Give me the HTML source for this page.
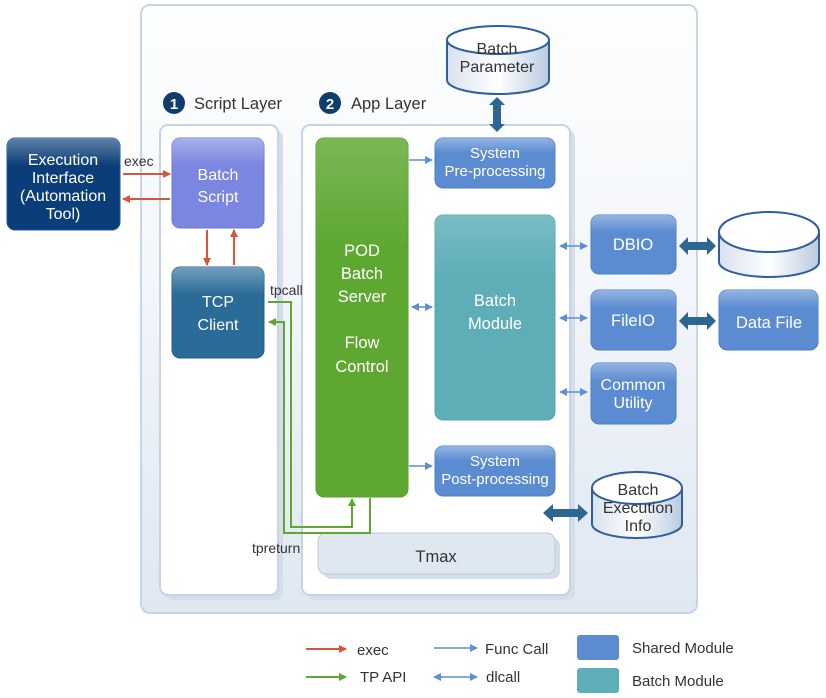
<!DOCTYPE html>
<html><head><meta charset="utf-8"><style>
html,body{margin:0;padding:0;background:#fff;width:826px;height:698px;overflow:hidden}
svg text{font-family:"Liberation Sans","DejaVu Sans",sans-serif}
</style></head><body>
<svg width="826" height="698" viewBox="0 0 826 698" xmlns="http://www.w3.org/2000/svg">
<defs>
<linearGradient id="bg" x1="0" y1="0" x2="0" y2="1"><stop offset="0" stop-color="#fdfefe"/><stop offset="0.45" stop-color="#f3f6fa"/><stop offset="1" stop-color="#dfe7f1"/></linearGradient>
<linearGradient id="cyl" x1="0" y1="0" x2="1" y2="0"><stop offset="0" stop-color="#d8e2ee"/><stop offset="0.5" stop-color="#ffffff"/><stop offset="1" stop-color="#b9cbe0"/></linearGradient>
<linearGradient id="gloss" x1="0" y1="0" x2="0" y2="1"><stop offset="0" stop-color="#fff" stop-opacity="0.35"/><stop offset="0.3" stop-color="#fff" stop-opacity="0"/></linearGradient>
<marker id="ar" markerWidth="8" markerHeight="8" refX="7" refY="4" orient="auto" markerUnits="userSpaceOnUse"><path d="M0,0 L8,4 L0,8 Z" fill="#d9553a"/></marker>
<marker id="ag" markerWidth="8" markerHeight="8" refX="7" refY="4" orient="auto" markerUnits="userSpaceOnUse"><path d="M0,0 L8,4 L0,8 Z" fill="#5ea832"/></marker>
<marker id="ab" markerWidth="8" markerHeight="8" refX="7" refY="4" orient="auto" markerUnits="userSpaceOnUse"><path d="M0,0 L8,4 L0,8 Z" fill="#5b8fd6"/></marker>
<marker id="abs" markerWidth="8" markerHeight="8" refX="1" refY="4" orient="auto" markerUnits="userSpaceOnUse"><path d="M8,0 L0,4 L8,8 Z" fill="#5b8fd6"/></marker>
</defs>

<rect x="141" y="5" width="556" height="608" rx="9" fill="url(#bg)" stroke="#c6d4e4" stroke-width="2"/>
<rect x="165" y="130" width="118" height="470" rx="8" fill="#d3deea"/>
<rect x="160" y="125" width="118" height="470" rx="8" fill="#fff" stroke="#c6d4e4" stroke-width="2"/>
<rect x="307" y="130" width="268" height="470" rx="8" fill="#d3deea"/>
<rect x="302" y="125" width="268" height="470" rx="8" fill="#fff" stroke="#c6d4e4" stroke-width="2"/>

<circle cx="174" cy="103" r="11" fill="#0f3d6e"/><text x="174" y="109" font-size="15" font-weight="bold" fill="#fff" text-anchor="middle">1</text>
<text x="194" y="109" font-size="16.5" fill="#333">Script Layer</text>
<circle cx="330" cy="103" r="11" fill="#0f3d6e"/><text x="330" y="109" font-size="15" font-weight="bold" fill="#fff" text-anchor="middle">2</text>
<text x="351" y="109" font-size="16.5" fill="#333">App Layer</text>

<rect x="7" y="138" width="113" height="92" rx="8" fill="#0b3e78" stroke="#1d5596"/>
<rect x="7" y="138" width="113" height="92" rx="8" fill="url(#gloss)"/>
<text font-size="16" fill="#fff" text-anchor="middle"><tspan x="63" y="165">Execution</tspan><tspan x="63" y="183">Interface</tspan><tspan x="63" y="201">(Automation</tspan><tspan x="63" y="219">Tool)</tspan></text>

<rect x="172" y="138" width="92" height="90" rx="8" fill="#7a86df" stroke="#6c7ad6"/>
<rect x="172" y="138" width="92" height="90" rx="8" fill="url(#gloss)"/>
<text font-size="16" fill="#fff" text-anchor="middle"><tspan x="218" y="180">Batch</tspan><tspan x="218" y="202">Script</tspan></text>
<rect x="172" y="267" width="92" height="91" rx="8" fill="#2b6b98" stroke="#255f89"/>
<rect x="172" y="267" width="92" height="91" rx="8" fill="url(#gloss)"/>
<text font-size="16" fill="#fff" text-anchor="middle"><tspan x="218" y="307">TCP</tspan><tspan x="218" y="330">Client</tspan></text>

<rect x="316" y="138" width="92" height="359" rx="8" fill="#5ea832" stroke="#55a02c"/>
<rect x="316" y="138" width="92" height="359" rx="8" fill="url(#gloss)" opacity="0.5"/>
<text font-size="16.5" fill="#fff" text-anchor="middle"><tspan x="362" y="256">POD</tspan><tspan x="362" y="279">Batch</tspan><tspan x="362" y="302">Server</tspan><tspan x="362" y="348">Flow</tspan><tspan x="362" y="372">Control</tspan></text>

<rect x="435" y="138" width="120" height="50" rx="8" fill="#5b8cd1" stroke="#4f7fc4"/>
<rect x="435" y="138" width="120" height="50" rx="8" fill="url(#gloss)"/>
<text font-size="15" fill="#fff" text-anchor="middle"><tspan x="495" y="158">System</tspan><tspan x="495" y="176">Pre-processing</tspan></text>
<rect x="435" y="446" width="120" height="50" rx="8" fill="#5b8cd1" stroke="#4f7fc4"/>
<rect x="435" y="446" width="120" height="50" rx="8" fill="url(#gloss)"/>
<text font-size="15" fill="#fff" text-anchor="middle"><tspan x="495" y="466">System</tspan><tspan x="495" y="484">Post-processing</tspan></text>

<rect x="435" y="215" width="120" height="205" rx="8" fill="#5eaeb8" stroke="#56a5af"/>
<rect x="435" y="215" width="120" height="205" rx="8" fill="url(#gloss)" opacity="0.5"/>
<text font-size="16.5" fill="#fff" text-anchor="middle"><tspan x="495" y="306">Batch</tspan><tspan x="495" y="329">Module</tspan></text>

<rect x="591" y="215" width="85" height="59" rx="8" fill="#5b8cd1" stroke="#4f7fc4"/>
<rect x="591" y="215" width="85" height="59" rx="8" fill="url(#gloss)"/>
<text x="633" y="250" font-size="16.5" fill="#fff" text-anchor="middle">DBIO</text>
<rect x="591" y="290" width="85" height="60" rx="8" fill="#5b8cd1" stroke="#4f7fc4"/>
<rect x="591" y="290" width="85" height="60" rx="8" fill="url(#gloss)"/>
<text x="633" y="326" font-size="16.5" fill="#fff" text-anchor="middle">FileIO</text>
<rect x="591" y="363" width="85" height="61" rx="8" fill="#5b8cd1" stroke="#4f7fc4"/>
<rect x="591" y="363" width="85" height="61" rx="8" fill="url(#gloss)"/>
<text font-size="16" fill="#fff" text-anchor="middle"><tspan x="633" y="390">Common</tspan><tspan x="633" y="408">Utility</tspan></text>
<rect x="719" y="290" width="99" height="60" rx="8" fill="#5b8cd1" stroke="#4f7fc4"/>
<rect x="719" y="290" width="99" height="60" rx="8" fill="url(#gloss)"/>
<text x="769" y="328" font-size="16.5" fill="#fff" text-anchor="middle">Data File</text>

<rect x="323" y="538" width="237" height="41" rx="8" fill="#d3deea"/>
<rect x="318" y="533" width="237" height="41" rx="8" fill="#dfe7f1" stroke="#bccbdc"/>
<text x="436" y="562" font-size="16.5" fill="#333" text-anchor="middle">Tmax</text>

<g stroke="#2f5f9e" stroke-width="2">
<path d="M447,40 L447,80 A51,14 0 0 0 549,80 L549,40" fill="url(#cyl)"/>
<ellipse cx="498" cy="40" rx="51" ry="14" fill="#fff"/>
<path d="M719,232 L719,262 A50,15 0 0 0 819,262 L819,232" fill="url(#cyl)"/>
<ellipse cx="769" cy="232" rx="50" ry="20" fill="#fff"/>
<path d="M592,488 L592,524 A45,14 0 0 0 682,524 L682,488" fill="url(#cyl)"/>
<ellipse cx="637" cy="488" rx="45" ry="16" fill="#fff"/>
</g>
<text font-size="16" fill="#333" text-anchor="middle"><tspan x="497" y="54">Batch</tspan><tspan x="497" y="72">Parameter</tspan></text>
<text font-size="16" fill="#333" text-anchor="middle"><tspan x="638" y="495">Batch</tspan><tspan x="638" y="513">Execution</tspan><tspan x="638" y="531">Info</tspan></text>

<g fill="#2d6690">
<path d="M497,97 l8,8 h-4 v19 h4 l-8,8 l-8,-8 h4 v-19 h-4 z"/>
<path d="M679,246 l9,-9 v5 h19 v-5 l9,9 l-9,9 v-5 h-19 v5 z"/>
<path d="M679,321 l9,-9 v5 h19 v-5 l9,9 l-9,9 v-5 h-19 v5 z"/>
<path d="M543,513 l10,-9 v5 h25 v-5 l10,9 l-10,9 v-5 h-25 v5 z"/>
</g>

<g stroke="#d9553a" stroke-width="2" fill="none">
<line x1="123" y1="174" x2="170" y2="174" marker-end="url(#ar)"/>
<line x1="170" y1="199" x2="123" y2="199" marker-end="url(#ar)"/>
<line x1="207" y1="230" x2="207" y2="265" marker-end="url(#ar)"/>
<line x1="234" y1="265" x2="234" y2="230" marker-end="url(#ar)"/>
</g>
<text x="124" y="166" font-size="14" fill="#333">exec</text>

<g stroke="#5ea832" stroke-width="2" fill="none">
<polyline points="268,302 291,302 291,527 352,527 352,499" marker-end="url(#ag)"/>
<polyline points="370,498 370,533 284,533 284,322 269,322" marker-end="url(#ag)"/>
</g>
<text x="270" y="295" font-size="14" fill="#333">tpcall</text>
<text x="252" y="553" font-size="14" fill="#333">tpreturn</text>

<g stroke="#5b8fd6" stroke-width="1.6" fill="none">
<line x1="409" y1="160" x2="432" y2="160" marker-end="url(#ab)"/>
<line x1="409" y1="466" x2="432" y2="466" marker-end="url(#ab)"/>
<line x1="412" y1="307" x2="432" y2="307" marker-start="url(#abs)" marker-end="url(#ab)"/>
<line x1="560" y1="246" x2="587" y2="246" marker-start="url(#abs)" marker-end="url(#ab)"/>
<line x1="560" y1="318" x2="587" y2="318" marker-start="url(#abs)" marker-end="url(#ab)"/>
<line x1="560" y1="392" x2="587" y2="392" marker-start="url(#abs)" marker-end="url(#ab)"/>
<line x1="434" y1="648" x2="477" y2="648" marker-end="url(#ab)"/>
<line x1="434" y1="677" x2="477" y2="677" marker-start="url(#abs)" marker-end="url(#ab)"/>
</g>

<line x1="306" y1="649" x2="346" y2="649" stroke="#d9553a" stroke-width="2" marker-end="url(#ar)"/>
<line x1="306" y1="677" x2="346" y2="677" stroke="#5ea832" stroke-width="2" marker-end="url(#ag)"/>
<text x="357" y="655" font-size="15" fill="#333">exec</text>
<text x="360" y="682" font-size="15" fill="#333">TP API</text>
<text x="485" y="654" font-size="15" fill="#333">Func Call</text>
<text x="486" y="682" font-size="15" fill="#333">dlcall</text>
<rect x="577" y="635" width="42" height="25" rx="3" fill="#5b8cd1"/>
<rect x="577" y="668" width="42" height="25" rx="3" fill="#5eaeb8"/>
<text x="632" y="653" font-size="15" fill="#333">Shared Module</text>
<text x="632" y="686" font-size="15" fill="#333">Batch Module</text>
</svg>
</body></html>
